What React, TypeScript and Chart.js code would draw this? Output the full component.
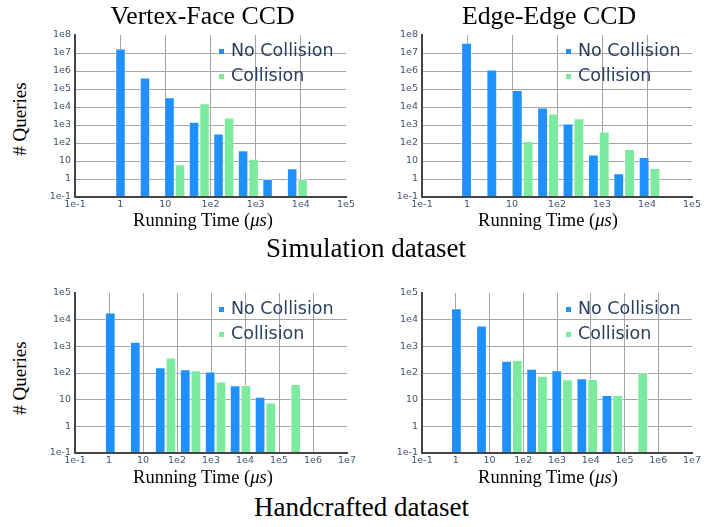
import React, { useEffect, useRef } from 'react';
import { Chart, registerables } from 'chart.js';

Chart.register(...registerables);

// ---------- data ----------
const SIM_TIME_TICKS = [0.1, 1, 10, 100, 1e3, 1e4, 1e5];
const HAND_TIME_TICKS = [0.1, 1, 10, 100, 1e3, 1e4, 1e5, 1e6, 1e7];
const SIM_QUERY_TICKS = [0.1, 1, 10, 100, 1e3, 1e4, 1e5, 1e6, 1e7, 1e8];
const HAND_QUERY_TICKS = [0.1, 1, 10, 100, 1e3, 1e4, 1e5];

const SERIES_NAMES = ['No Collision', 'Collision'];

// running-time bin centres (μs)
const VF_SIM_BINS = [1.33, 4.63, 16.2, 56.5, 197, 689, 2400, 8400];
const VF_SIM_NO_COLLISION = [1.8e7, 4.4e5, 3.5e4, 1.5e3, 340, 40, 1, 4];
const VF_SIM_COLLISION = [null, null, 6.6, 1.6e4, 2.6e3, 13.5, null, 1];

const EE_SIM_BINS = [1.29, 4.7, 17.3, 63.2, 232, 849, 3110, 11400];
const EE_SIM_NO_COLLISION = [3.7e7, 1.2e6, 8.7e4, 9.4e3, 1.2e3, 23, 2.1, 16.6];
const EE_SIM_COLLISION = [null, null, 130, 4.4e3, 2.4e3, 435, 47, 4.1];

const VF_HAND_BINS = [1.57, 8.53, 46.2, 251, 1360, 7360, 39900, 216000];
const VF_HAND_NO_COLLISION = [1.85e4, 1.5e3, 163, 137, 115, 35, 13, null];
const VF_HAND_COLLISION = [null, null, 385, 126, 48, 35.5, 7.8, 39];

const EE_HAND_BINS = [1.51, 8.38, 46.3, 256, 1420, 7850, 43500, 240000];
const EE_HAND_NO_COLLISION = [2.7e4, 6.1e3, 288, 145, 126, 63, 15, null];
const EE_HAND_COLLISION = [null, null, 307, 79, 58, 60, 15, 102];

// ---------- style ----------
const BLUE = '#1e90ff';
const GREEN = '#7deb9f';
const BAR_EDGE = 'rgba(255,255,255,0.55)';
const GRID = '#a4a4a4';
const AXIS = '#444444';
const TICK_COLOR = '#425370';
const LEGEND_COLOR = '#2a3f5f';
const SERIF = '"Liberation Serif", "Times New Roman", serif';
const SANS = '"DejaVu Sans", Verdana, sans-serif';

const PAD_L = 45;
const PAD_R = 15;
const PAD_T = 10;
const PAD_B = 22;

function tickLabel(v: number): string {
  const e = Math.round(Math.log10(v));
  if (e === 0) return '1';
  if (e === 1) return '10';
  return '1e' + e;
}

type PanelProps = {
  left: number;
  top: number;
  width: number;
  height: number;
  bins: number[];
  noColl: (number | null)[];
  coll: (number | null)[];
  xTicks: number[];
  yTicks: number[];
};

function Panel(p: PanelProps) {
  const ref = useRef<HTMLCanvasElement>(null);
  const cw = p.width + PAD_L + PAD_R;
  const ch = p.height + PAD_T + PAD_B;

  useEffect(() => {
    const toPts = (vals: (number | null)[]) =>
      p.bins
        .map((x, i) => ({ x, y: vals[i] }))
        .filter((pt) => pt.y !== null && pt.y !== undefined) as { x: number; y: number }[];

    const tickFont = { family: SANS, size: 9.5 };
    const chart = new Chart(ref.current as HTMLCanvasElement, {
      type: 'bar',
      data: {
        datasets: [
          {
            label: SERIES_NAMES[0],
            data: toPts(p.noColl),
            backgroundColor: BLUE,
            borderColor: BAR_EDGE,
            borderWidth: 1,
          },
          {
            label: SERIES_NAMES[1],
            data: toPts(p.coll),
            backgroundColor: GREEN,
            borderColor: BAR_EDGE,
            borderWidth: 1,
          },
        ],
      },
      options: {
        animation: false,
        responsive: false,
        maintainAspectRatio: false,
        layout: { padding: { left: PAD_L - 40, right: PAD_R, top: PAD_T, bottom: PAD_B - 20 } },
        plugins: { legend: { display: false }, tooltip: { enabled: false }, title: { display: false } },
        datasets: { bar: { categoryPercentage: 0.86, barPercentage: 1 } },
        scales: {
          x: {
            type: 'logarithmic',
            min: p.xTicks[0],
            max: p.xTicks[p.xTicks.length - 1],
            offset: false,
            grid: {
              offset: false,
              drawTicks: false,
              lineWidth: 1,
              color: (ctx: any) =>
                ctx.index === 0 || ctx.index === p.xTicks.length - 1 ? 'rgba(0,0,0,0)' : GRID,
            },
            border: { display: true, color: AXIS, width: 2, z: 1 },
            afterBuildTicks: (s: any) => {
              s.ticks = p.xTicks.map((v) => ({ value: v }));
            },
            afterFit: (s: any) => {
              s.height = 20;
            },
            ticks: {
              callback: (v: any) => tickLabel(Number(v)),
              font: tickFont,
              color: TICK_COLOR,
              padding: 2,
              maxRotation: 0,
              autoSkip: false,
            },
          },
          y: {
            type: 'logarithmic',
            min: p.yTicks[0],
            max: p.yTicks[p.yTicks.length - 1],
            grid: {
              drawTicks: false,
              lineWidth: 1,
              color: (ctx: any) =>
                ctx.index === 0 || ctx.index === p.yTicks.length - 1 ? 'rgba(0,0,0,0)' : GRID,
            },
            border: { display: true, color: AXIS, width: 2, z: 1 },
            afterBuildTicks: (s: any) => {
              s.ticks = p.yTicks.map((v) => ({ value: v }));
            },
            afterFit: (s: any) => {
              s.width = 40;
            },
            ticks: {
              callback: (v: any) => tickLabel(Number(v)),
              font: tickFont,
              color: TICK_COLOR,
              padding: 4,
              autoSkip: false,
            },
          },
        },
      } as any,
    });
    return () => chart.destroy();
  }, []);

  return (
    <canvas
      ref={ref}
      width={cw}
      height={ch}
      style={{ position: 'absolute', left: p.left - PAD_L, top: p.top - PAD_T, width: cw, height: ch }}
    />
  );
}

function Legend({ left, top }: { left: number; top: number }) {
  const colors = [BLUE, GREEN];
  const size = 17.5;
  return (
    <>
      {SERIES_NAMES.map((name, i) => (
        <React.Fragment key={name}>
          <div
            style={{
              position: 'absolute',
              left: left + 144,
              top: top + 13.5 + i * 25,
              width: 5,
              height: 5,
              background: colors[i],
              boxShadow: '0 0 0 0.5px rgba(255,255,255,0.6)',
            }}
          />
          <div
            style={{
              position: 'absolute',
              left: left + 156,
              top: top + 22.1 + i * 25 - 0.846 * size,
              fontFamily: SANS,
              fontSize: size,
              lineHeight: 1,
              color: LEGEND_COLOR,
              whiteSpace: 'nowrap',
            }}
          >
            {name}
          </div>
        </React.Fragment>
      ))}
    </>
  );
}

function SerifText({
  cx,
  baseline,
  size,
  children,
}: {
  cx: number;
  baseline: number;
  size: number;
  children: React.ReactNode;
}) {
  return (
    <div
      style={{
        position: 'absolute',
        left: cx,
        top: baseline - 0.8375 * size,
        transform: 'translateX(-50%)',
        fontFamily: SERIF,
        fontSize: size,
        lineHeight: 1,
        color: '#000',
        whiteSpace: 'nowrap',
      }}
    >
      {children}
    </div>
  );
}

function YTitle({ cx, cy }: { cx: number; cy: number }) {
  return (
    <div
      style={{
        position: 'absolute',
        left: cx,
        top: cy,
        transform: 'translate(-50%, -50%) rotate(-90deg)',
        fontFamily: SERIF,
        fontSize: 19,
        lineHeight: 1,
        color: '#000',
        whiteSpace: 'nowrap',
      }}
    >
      # Queries
    </div>
  );
}

function XTitle({ cx, baseline }: { cx: number; baseline: number }) {
  return (
    <SerifText cx={cx} baseline={baseline} size={18.5}>
      Running Time (<i>μs</i>)
    </SerifText>
  );
}

export default function App() {
  const panels = [
    { left: 75, top: 35, width: 271, height: 162, bins: VF_SIM_BINS, noColl: VF_SIM_NO_COLLISION, coll: VF_SIM_COLLISION, xTicks: SIM_TIME_TICKS, yTicks: SIM_QUERY_TICKS },
    { left: 422, top: 35, width: 270, height: 162, bins: EE_SIM_BINS, noColl: EE_SIM_NO_COLLISION, coll: EE_SIM_COLLISION, xTicks: SIM_TIME_TICKS, yTicks: SIM_QUERY_TICKS },
    { left: 75, top: 293, width: 272, height: 160, bins: VF_HAND_BINS, noColl: VF_HAND_NO_COLLISION, coll: VF_HAND_COLLISION, xTicks: HAND_TIME_TICKS, yTicks: HAND_QUERY_TICKS },
    { left: 422, top: 293, width: 270, height: 160, bins: EE_HAND_BINS, noColl: EE_HAND_NO_COLLISION, coll: EE_HAND_COLLISION, xTicks: HAND_TIME_TICKS, yTicks: HAND_QUERY_TICKS },
  ];
  return (
    <div
      style={{
        position: 'absolute',
        left: 0,
        top: 0,
        width: 720,
        height: 527,
        background: '#fff',
        overflow: 'hidden',
      }}
    >
      {panels.map((p, i) => (
        <Panel key={i} {...p} />
      ))}
      {panels.map((p, i) => (
        <Legend key={'l' + i} left={p.left} top={p.top} />
      ))}
      <SerifText cx={202.5} baseline={25} size={25.8}>
        Vertex-Face CCD
      </SerifText>
      <SerifText cx={549} baseline={24.5} size={25.8}>
        Edge-Edge CCD
      </SerifText>
      <YTitle cx={19} cy={119} />
      <YTitle cx={19} cy={377.5} />
      <XTitle cx={203} baseline={226} />
      <XTitle cx={548} baseline={226} />
      <XTitle cx={203} baseline={483.5} />
      <XTitle cx={548} baseline={483.5} />
      <SerifText cx={366} baseline={257.3} size={27}>
        Simulation dataset
      </SerifText>
      <SerifText cx={361.5} baseline={516.7} size={27}>
        Handcrafted dataset
      </SerifText>
    </div>
  );
}
